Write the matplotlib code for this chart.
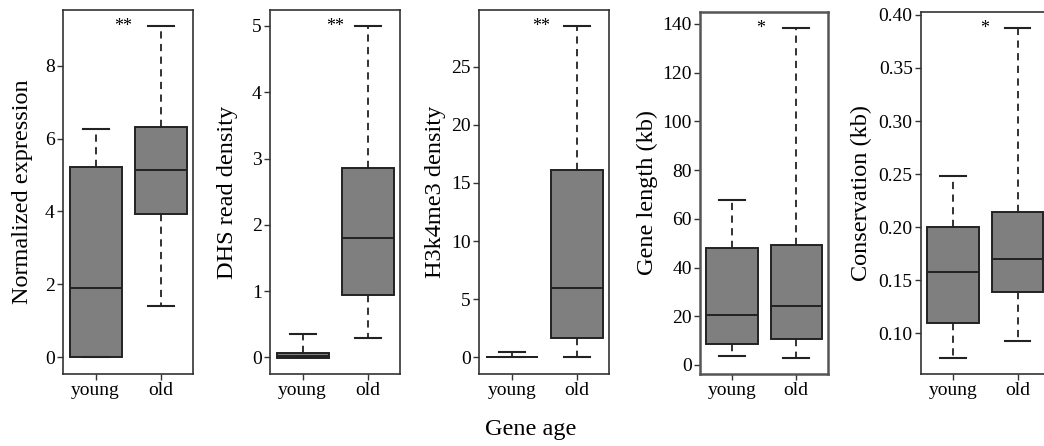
import matplotlib
matplotlib.use("Agg")
import matplotlib.pyplot as plt
import matplotlib.transforms as mtransforms
from matplotlib.ticker import FormatStrFormatter

plt.rcParams["font.family"] = ["Liberation Serif", "DejaVu Serif"]

# categories
groups = ["young", "old"]

# per-panel box stats: (whislo, q1, med, q3, whishi) for young, old
expr_young = [0.0, 0.02, 1.89, 5.23, 6.27]
expr_old = [1.41, 3.93, 5.14, 6.33, 9.09]

dhs_young = [0.0, -0.01, 0.02, 0.065, 0.35]
dhs_old = [0.29, 0.94, 1.80, 2.85, 5.0]

h3k_young = [0.0, 0.0, 0.0, 0.02, 0.43]
h3k_old = [0.05, 1.63, 5.93, 16.1, 28.5]

len_young = [3.7, 8.5, 20.5, 48.2, 67.7]
len_old = [2.7, 10.7, 24.2, 49.3, 138.2]

cons_young = [0.0764, 0.110, 0.158, 0.2005, 0.248]
cons_old = [0.093, 0.1386, 0.1697, 0.2146, 0.3875]

ylabels = ["Normalized expression", "DHS read density", "H3k4me3 density",
           "Gene length (kb)", "Conservation (kb)"]
stars = ["**", "**", "**", "*", "*"]
yticks = [[0, 2, 4, 6, 8], [0, 1, 2, 3, 4, 5], [0, 5, 10, 15, 20, 25],
          [0, 20, 40, 60, 80, 100, 120, 140], [0.10, 0.15, 0.20, 0.25, 0.30, 0.35, 0.40]]

panels = [
    (expr_young, expr_old),
    (dhs_young, dhs_old),
    (h3k_young, h3k_old),
    (len_young, len_old),
    (cons_young, cons_old),
]

# layout in pixels of a 1044x446 canvas
W, H = 1044, 446
boxes_px = [(63, 193, 10), (270, 400, 10), (479.3, 609.3, 10),
            (700, 828.3, 11.7), (921, 1049.7, 11.7)]
bottom_px = 374
ylims = [(-0.46, 9.53), (-0.25, 5.24), (-1.43, 29.86), (-3.7, 145), (0.0616, 0.403)]
star_x = [1.43, 1.5, 1.45, 1.45, 1.49]
# x position (pixels) of each y label's right edge
ylabel_px = [33, 238, 445.7, 658, 871.7]

fig = plt.figure(figsize=(W / 100, H / 100), dpi=100)

for i, (young, old) in enumerate(panels):
    l, r, t = boxes_px[i]
    ax = fig.add_axes([l / W, (H - bottom_px) / H, (r - l) / W, (bottom_px - t) / H])
    stats = []
    for name, v in zip(groups, (young, old)):
        stats.append({"label": name, "whislo": v[0], "q1": v[1], "med": v[2],
                      "q3": v[3], "whishi": v[4], "fliers": []})
    ax.bxp(stats, positions=[1, 2], widths=0.8, patch_artist=True, showfliers=False,
           boxprops=dict(facecolor="#7f7f7f", edgecolor="#222222", linewidth=1.4),
           medianprops=dict(color="#222222", linewidth=1.4),
           whiskerprops=dict(color="#222222", linewidth=1.3, linestyle=(0, (4, 3))),
           capprops=dict(color="#222222", linewidth=1.5))
    ax.set_xlim(0.5, 2.5)
    ax.set_ylim(*ylims[i])
    ax.set_yticks(yticks[i])
    if i == 4:
        ax.yaxis.set_major_formatter(FormatStrFormatter("%.2f"))
    ax.set_xticks([1, 2])
    ax.set_xticklabels(groups)
    ax.tick_params(labelsize=14, length=4, width=1, color="#333333", pad=2)
    ax.set_ylabel(ylabels[i], fontsize=17.5)
    ax.yaxis.set_label_coords((ylabel_px[i] - l) / (r - l), 0.5)
    for s in ax.spines.values():
        s.set_color("#333333" if i != 3 else "#555555")
        s.set_linewidth(1.2 if i != 3 else 1.8)
    trans = mtransforms.blended_transform_factory(ax.transData, ax.transAxes)
    ax.text(star_x[i], 0.955, stars[i], transform=trans, ha="center", va="center",
            fontsize=13)

fig.text(531 / W, 1 - 430 / H, "Gene age", ha="center", va="center", fontsize=17.5)

fig.savefig("out.png", dpi=100)
